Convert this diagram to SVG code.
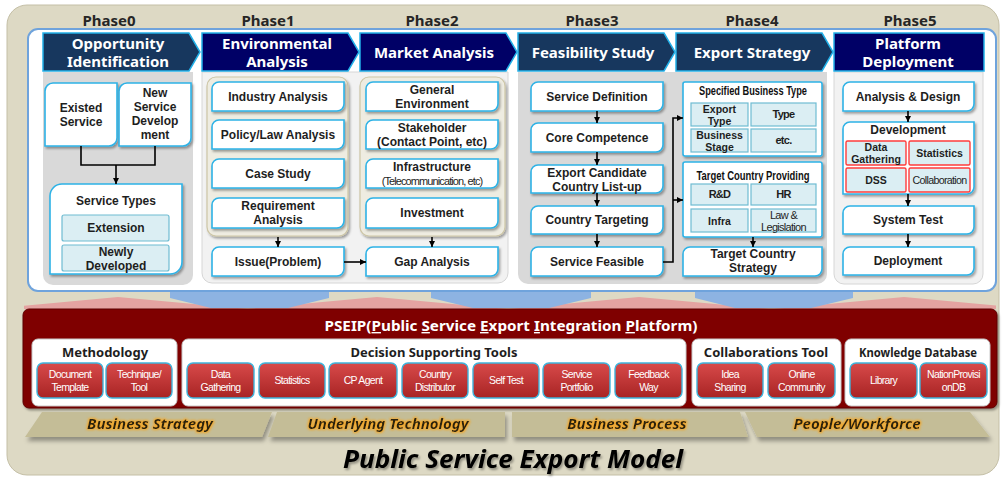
<svg xmlns="http://www.w3.org/2000/svg" width="1002" height="478" viewBox="0 0 1002 478">
<defs>
<style>
.ph{font-family:"Noto Sans","DejaVu Sans",sans-serif;font-weight:bold;font-size:15px;fill:#262626;text-anchor:middle}
.hd{font-family:"Noto Sans","DejaVu Sans",sans-serif;font-weight:bold;font-size:15px;fill:#ffffff;text-anchor:middle}
.hA{fill:#17375e;stroke:#22b0e8;stroke-width:1.5}
.hB{fill:#000066;stroke:#22b0e8;stroke-width:1.5}
.bx{fill:#ffffff;stroke:#2eb2e6;stroke-width:1.6;filter:url(#sh)}
.t{font-family:"Liberation Sans",Arial,sans-serif;font-weight:bold;font-size:12px;fill:#1e1e1e;text-anchor:middle}
.ts{font-family:"Liberation Sans",Arial,sans-serif;font-weight:bold;font-size:10.5px;fill:#1e1e1e;text-anchor:middle}
.tc{font-family:"Liberation Sans",Arial,sans-serif;font-size:11px;fill:#1e1e1e;text-anchor:middle;letter-spacing:-0.7px}
.tt{font-family:"Liberation Sans",Arial,sans-serif;font-weight:bold;font-size:12px;fill:#111111;text-anchor:middle}
.cell{fill:#dbeef3;stroke:#6fbcd2;stroke-width:1.2}
.rcell{fill:#dbeef3;stroke:#ff3c3c;stroke-width:1.4}
.rb{fill:url(#rg);stroke:#3fb4dc;stroke-width:1.4}
.rt{font-family:"Liberation Sans",Arial,sans-serif;font-size:10.5px;fill:#ffffff;text-anchor:middle;letter-spacing:-0.7px}
.sec{fill:#ffffff;stroke:#c8c8c8;stroke-width:1}
.st{font-family:"Noto Sans","DejaVu Sans",sans-serif;font-weight:bold;font-size:13px;fill:#1e1e1e;text-anchor:middle}
.bt{font-family:"Noto Sans","DejaVu Sans",sans-serif;font-weight:bold;font-style:italic;font-size:15px;fill:#2a2410;text-anchor:middle;filter:url(#glow)}
.trap{fill:#c4bd97;filter:url(#sh2)}
.ln{fill:none;stroke:#000000;stroke-width:1.6}
</style>
<filter id="sh" x="-10%" y="-15%" width="125%" height="145%">
<feDropShadow dx="1.5" dy="2" stdDeviation="1.1" flood-color="#000000" flood-opacity="0.35"/>
</filter>
<filter id="sh2" x="-5%" y="-20%" width="115%" height="170%">
<feDropShadow dx="2" dy="4" stdDeviation="2" flood-color="#000000" flood-opacity="0.35"/>
</filter>
<filter id="tsh" x="-5%" y="-20%" width="115%" height="160%">
<feDropShadow dx="1.5" dy="2" stdDeviation="1.2" flood-color="#000000" flood-opacity="0.35"/>
</filter>
<filter id="glow" x="-10%" y="-40%" width="120%" height="180%">
<feMorphology in="SourceAlpha" operator="dilate" radius="1.3" result="d"/>
<feGaussianBlur in="d" stdDeviation="1.3" result="b"/>
<feFlood flood-color="#f5a623" flood-opacity="0.9"/>
<feComposite in2="b" operator="in" result="g"/>
<feMerge><feMergeNode in="g"/><feMergeNode in="SourceGraphic"/></feMerge>
</filter>
<linearGradient id="rg" x1="0" y1="0" x2="0" y2="1">
<stop offset="0" stop-color="#d84a4a"/>
<stop offset="1" stop-color="#a82424"/>
</linearGradient>
<clipPath id="pc"><rect x="24" y="280" width="972" height="30"/></clipPath>
<marker id="ar" viewBox="0 0 8 8" refX="8" refY="4" markerWidth="6" markerHeight="6" markerUnits="userSpaceOnUse" orient="auto">
<path d="M0 0 L8 4 L0 8 Z" fill="#000000"/>
</marker>
</defs>

<g id="background">
<rect x="7" y="5" width="992" height="470" rx="20" fill="#ddd9c4" stroke="#c4bfa6" stroke-width="1"/>
</g>

<g id="phase-labels">
<text class="ph" x="109" y="26">Phase0</text>
<text class="ph" x="268" y="26">Phase1</text>
<text class="ph" x="432" y="26">Phase2</text>
<text class="ph" x="592" y="26">Phase3</text>
<text class="ph" x="752" y="26">Phase4</text>
<text class="ph" x="910" y="26">Phase5</text>
</g>

<g id="flow-arrows">
<g clip-path="url(#pc)" fill="#e4a3a1">
<path d="M118 297 L248 309 L-12 309 Z"/>
<path d="M377 297 L507 309 L247 309 Z"/>
<path d="M639 297 L769 309 L509 309 Z"/>
<path d="M904 297 L1034 309 L774 309 Z"/>
</g>
<path d="M170 289 H329 V298 L288 308 H211 L170 298 Z" fill="#8db3e2"/>
<path d="M431 289 H591 V298 L549 308 H473 L431 298 Z" fill="#8db3e2"/>
<path d="M695 289 H853 V298 L811 308 H735 L695 298 Z" fill="#8db3e2"/>
</g>

<g id="main-panel">
<rect x="28" y="29" width="968" height="262" rx="10" fill="#ffffff" stroke="#6fa3dc" stroke-width="2"/>
<path d="M43 72 H193 V275 A10 10 0 0 1 183 285 H53 A10 10 0 0 1 43 275 Z" fill="#d9d9d9"/>
<path d="M202 72 H508 V273 A10 10 0 0 1 498 283 H212 A10 10 0 0 1 202 273 Z" fill="#f2f2f2" stroke="#d6d6d6" stroke-width="1"/>
<path d="M518 72 H827 V274 A10 10 0 0 1 817 284 H528 A10 10 0 0 1 518 274 Z" fill="#d9d9d9"/>
<path d="M834 72 H983 V274 A10 10 0 0 1 973 284 H844 A10 10 0 0 1 834 274 Z" fill="#f2f2f2" stroke="#d6d6d6" stroke-width="1"/>
<rect x="207" y="77" width="141" height="159" rx="9" fill="#eeece1" stroke="#cdc6a6" stroke-width="1.2" filter="url(#sh)"/>
<rect x="360" y="77" width="145" height="159" rx="9" fill="#eeece1" stroke="#cdc6a6" stroke-width="1.2" filter="url(#sh)"/>
</g>

<g id="header-phase0">
<path class="hA" d="M43 33 H189 L200 52 L189 71 H43 Z"/>
<text class="hd" x="118" y="49">Opportunity<tspan x="118" dy="18">Identification</tspan></text>
</g>
<g id="header-phase1">
<path class="hB" d="M202 33 H348 L359 52 L348 71 H202 Z"/>
<text class="hd" x="277" y="49">Environmental<tspan x="277" dy="18">Analysis</tspan></text>
</g>
<g id="header-phase2">
<path class="hB" d="M360 33 H506 L517 52 L506 71 H360 Z"/>
<text class="hd" x="434" y="58">Market Analysis</text>
</g>
<g id="header-phase3">
<path class="hA" d="M518 33 H664 L675 52 L664 71 H518 Z"/>
<text class="hd" x="593" y="58">Feasibility Study</text>
</g>
<g id="header-phase4">
<path class="hA" d="M676 33 H822 L833 52 L822 71 H676 Z"/>
<text class="hd" x="752" y="58">Export Strategy</text>
</g>
<g id="header-phase5">
<rect class="hB" x="834" y="33" width="150" height="38"/>
<text class="hd" x="908" y="49">Platform<tspan x="908" dy="18">Deployment</tspan></text>
</g>

<g id="existed-service">
<path class="bx" d="M53 83 H117 V138 A8 8 0 0 1 109 146 H45 V91 A8 8 0 0 1 53 83 Z"/>
<text class="t" x="81" y="112">Existed<tspan x="81" dy="14">Service</tspan></text>
</g>
<g id="new-service">
<path class="bx" d="M127 83 H191 V138 A8 8 0 0 1 183 146 H119 V91 A8 8 0 0 1 127 83 Z"/>
<text class="t" x="155" y="97">New<tspan x="155" dy="14">Service</tspan><tspan x="155" dy="14">Develop</tspan><tspan x="155" dy="14">ment</tspan></text>
</g>
<g id="service-types">
<path class="bx" d="M62 184 H182 V262 A12 12 0 0 1 170 274 H50 V196 A12 12 0 0 1 62 184 Z"/>
<text class="t" x="116" y="205" font-weight="normal">Service Types</text>
<rect class="cell" x="62" y="215" width="107" height="26" rx="2"/>
<text class="t" x="116" y="232">Extension</text>
<rect class="cell" x="62" y="245" width="107" height="26" rx="2"/>
<text class="t" x="116" y="256">Newly<tspan x="116" dy="14">Developed</tspan></text>
</g>

<g id="industry-analysis">
<path class="bx" d="M219 82 H344 V104 A7 7 0 0 1 337 111 H212 V89 A7 7 0 0 1 219 82 Z"/>
<text class="t" x="278" y="101">Industry Analysis</text>
</g>
<g id="policy-law">
<path class="bx" d="M219 120 H344 V142 A7 7 0 0 1 337 149 H212 V127 A7 7 0 0 1 219 120 Z"/>
<text class="t" x="278" y="139">Policy/Law Analysis</text>
</g>
<g id="case-study">
<path class="bx" d="M219 159 H344 V181 A7 7 0 0 1 337 188 H212 V166 A7 7 0 0 1 219 159 Z"/>
<text class="t" x="278" y="178">Case Study</text>
</g>
<g id="requirement">
<path class="bx" d="M219 198 H344 V221 A7 7 0 0 1 337 228 H212 V205 A7 7 0 0 1 219 198 Z"/>
<text class="t" x="278" y="210">Requirement<tspan x="278" dy="14">Analysis</tspan></text>
</g>
<g id="issue">
<path class="bx" d="M219 247 H344 V269 A7 7 0 0 1 337 276 H212 V254 A7 7 0 0 1 219 247 Z"/>
<text class="t" x="278" y="266">Issue(Problem)</text>
</g>

<g id="general-env">
<path class="bx" d="M373 82 H498 V104 A7 7 0 0 1 491 111 H366 V89 A7 7 0 0 1 373 82 Z"/>
<text class="t" x="432" y="94">General<tspan x="432" dy="14">Environment</tspan></text>
</g>
<g id="stakeholder">
<path class="bx" d="M373 120 H498 V142 A7 7 0 0 1 491 149 H366 V127 A7 7 0 0 1 373 120 Z"/>
<text class="t" x="432" y="132">Stakeholder<tspan x="432" dy="14">(Contact Point, etc)</tspan></text>
</g>
<g id="infrastructure">
<path class="bx" d="M373 159 H498 V181 A7 7 0 0 1 491 188 H366 V166 A7 7 0 0 1 373 159 Z"/>
<text class="t" x="432" y="171">Infrastructure<tspan x="432" dy="14" font-weight="normal" font-size="11" letter-spacing="-0.9">(Telecommunication, etc)</tspan></text>
</g>
<g id="investment">
<path class="bx" d="M373 198 H498 V221 A7 7 0 0 1 491 228 H366 V205 A7 7 0 0 1 373 198 Z"/>
<text class="t" x="432" y="217">Investment</text>
</g>
<g id="gap-analysis">
<path class="bx" d="M373 247 H498 V269 A7 7 0 0 1 491 276 H366 V254 A7 7 0 0 1 373 247 Z"/>
<text class="t" x="432" y="266">Gap Analysis</text>
</g>

<g id="service-definition">
<path class="bx" d="M538 82 H663 V104 A7 7 0 0 1 656 111 H531 V89 A7 7 0 0 1 538 82 Z"/>
<text class="t" x="597" y="101">Service Definition</text>
</g>
<g id="core-competence">
<path class="bx" d="M538 123 H663 V145 A7 7 0 0 1 656 152 H531 V130 A7 7 0 0 1 538 123 Z"/>
<text class="t" x="597" y="142">Core Competence</text>
</g>
<g id="export-candidate">
<path class="bx" d="M538 165 H663 V186 A7 7 0 0 1 656 193 H531 V172 A7 7 0 0 1 538 165 Z"/>
<text class="t" x="597" y="177">Export Candidate<tspan x="597" dy="14">Country List-up</tspan></text>
</g>
<g id="country-targeting">
<path class="bx" d="M538 206 H663 V227 A7 7 0 0 1 656 234 H531 V213 A7 7 0 0 1 538 206 Z"/>
<text class="t" x="597" y="224">Country Targeting</text>
</g>
<g id="service-feasible">
<path class="bx" d="M538 247 H663 V269 A7 7 0 0 1 656 276 H531 V254 A7 7 0 0 1 538 247 Z"/>
<text class="t" x="597" y="266">Service Feasible</text>
</g>

<g id="specified-business-type">
<rect class="bx" x="683" y="82" width="139" height="74" rx="2"/>
<text class="tt" x="753" y="95" textLength="108" lengthAdjust="spacingAndGlyphs">Specified Business Type</text>
<rect class="cell" x="691" y="103" width="57" height="23"/>
<text class="ts" x="719.5" y="113">Export<tspan x="719.5" dy="11.5">Type</tspan></text>
<rect class="cell" x="751" y="103" width="65" height="23"/>
<text class="tc" x="783.5" y="118" font-weight="bold">Type</text>
<rect class="cell" x="691" y="129" width="57" height="23"/>
<text class="ts" x="719.5" y="139">Business<tspan x="719.5" dy="11.5">Stage</tspan></text>
<rect class="cell" x="751" y="129" width="65" height="23"/>
<text class="tc" x="783.5" y="144" font-weight="bold">etc.</text>
</g>
<g id="target-country-providing">
<rect class="bx" x="683" y="162" width="139" height="75" rx="2"/>
<text class="tt" x="753" y="180" textLength="113" lengthAdjust="spacingAndGlyphs">Target Country Providing</text>
<rect class="cell" x="691" y="184" width="57" height="21"/>
<text class="tc" x="719.5" y="198" font-weight="bold">R&amp;D</text>
<rect class="cell" x="751" y="184" width="65" height="21"/>
<text class="tc" x="783.5" y="198" font-weight="bold">HR</text>
<rect class="cell" x="691" y="209" width="57" height="23"/>
<text class="ts" x="719.5" y="225" font-size="11">Infra</text>
<rect class="cell" x="751" y="209" width="65" height="23"/>
<text class="tc" x="783.5" y="219" font-size="10.5">Law &amp;<tspan x="783.5" dy="11.5">Legislation</tspan></text>
</g>
<g id="target-country-strategy">
<path class="bx" d="M690 247 H822 V269 A7 7 0 0 1 815 276 H683 V254 A7 7 0 0 1 690 247 Z"/>
<text class="t" x="753" y="258">Target Country<tspan x="753" dy="14">Strategy</tspan></text>
</g>

<g id="analysis-design">
<path class="bx" d="M850 82 H974 V104 A7 7 0 0 1 967 111 H843 V89 A7 7 0 0 1 850 82 Z"/>
<text class="t" x="908" y="101">Analysis &amp; Design</text>
</g>
<g id="development">
<path class="bx" d="M850 122 H974 V187 A7 7 0 0 1 967 194 H843 V129 A7 7 0 0 1 850 122 Z"/>
<text class="t" x="908" y="134">Development</text>
<rect class="rcell" x="846" y="141" width="60" height="24" rx="1.5"/>
<text class="ts" x="876" y="151">Data<tspan x="876" dy="11.5">Gathering</tspan></text>
<rect class="rcell" x="909" y="141" width="61" height="24" rx="1.5"/>
<text class="ts" x="939.5" y="157" font-size="11">Statistics</text>
<rect class="rcell" x="846" y="168" width="60" height="24" rx="1.5"/>
<text class="ts" x="876" y="184" font-size="11">DSS</text>
<rect class="rcell" x="909" y="168" width="61" height="24" rx="1.5"/>
<text class="tc" x="939.5" y="184" textLength="54" lengthAdjust="spacingAndGlyphs">Collaboration</text>
</g>
<g id="system-test">
<path class="bx" d="M850 206 H974 V227 A7 7 0 0 1 967 234 H843 V213 A7 7 0 0 1 850 206 Z"/>
<text class="t" x="908" y="224">System Test</text>
</g>
<g id="deployment">
<path class="bx" d="M850 247 H974 V268 A7 7 0 0 1 967 275 H843 V254 A7 7 0 0 1 850 247 Z"/>
<text class="t" x="908" y="265">Deployment</text>
</g>

<g id="connectors">
<polyline class="ln" points="81,146 81,165 155,165 155,146"/>
<line class="ln" x1="116" y1="165" x2="116" y2="184" marker-end="url(#ar)"/>
<line class="ln" x1="278" y1="237" x2="278" y2="247" marker-end="url(#ar)"/>
<line class="ln" x1="432" y1="237" x2="432" y2="247" marker-end="url(#ar)"/>
<line class="ln" x1="344" y1="262" x2="366" y2="262" marker-end="url(#ar)"/>
<line class="ln" x1="597" y1="111" x2="597" y2="123" marker-end="url(#ar)"/>
<line class="ln" x1="597" y1="152" x2="597" y2="165" marker-end="url(#ar)"/>
<line class="ln" x1="597" y1="193" x2="597" y2="206" marker-end="url(#ar)"/>
<line class="ln" x1="597" y1="234" x2="597" y2="247" marker-end="url(#ar)"/>
<polyline class="ln" points="663,262 673,262 673,118 683,118" marker-end="url(#ar)"/>
<line class="ln" x1="673" y1="200" x2="683" y2="200" marker-end="url(#ar)"/>
<line class="ln" x1="753" y1="237" x2="753" y2="247" marker-end="url(#ar)"/>
<line class="ln" x1="908" y1="111" x2="908" y2="122" marker-end="url(#ar)"/>
<line class="ln" x1="908" y1="194" x2="908" y2="206" marker-end="url(#ar)"/>
<line class="ln" x1="908" y1="234" x2="908" y2="247" marker-end="url(#ar)"/>
</g>

<g id="pseip">
<rect x="23" y="309" width="974" height="99" rx="6" fill="#7f0000" stroke="#5c0000" stroke-width="1" filter="url(#sh)"/>
<text x="511" y="331" font-family="Noto Sans, DejaVu Sans, sans-serif" font-weight="bold" font-size="14" fill="#ffffff" text-anchor="middle" textLength="373" lengthAdjust="spacingAndGlyphs">PSEIP(<tspan text-decoration="underline">P</tspan>ublic <tspan text-decoration="underline">S</tspan>ervice <tspan text-decoration="underline">E</tspan>xport <tspan text-decoration="underline">I</tspan>ntegration <tspan text-decoration="underline">P</tspan>latform)</text>
</g>

<g id="methodology">
<rect class="sec" x="32" y="339" width="145" height="67" rx="6"/>
<text class="st" x="105" y="357">Methodology</text>
<rect class="rb" x="37" y="363" width="66" height="35" rx="6"/>
<text class="rt" x="70" y="378">Document<tspan x="70" dy="13">Template</tspan></text>
<rect class="rb" x="106" y="363" width="66" height="35" rx="6"/>
<text class="rt" x="139" y="378">Technique/<tspan x="139" dy="13">Tool</tspan></text>
</g>

<g id="decision-supporting-tools">
<rect class="sec" x="182" y="339" width="504" height="67" rx="6"/>
<text class="st" x="434" y="357">Decision Supporting Tools</text>
<rect class="rb" x="187" y="363" width="67" height="35" rx="6"/>
<text class="rt" x="220.5" y="378">Data<tspan x="220.5" dy="13">Gathering</tspan></text>
<rect class="rb" x="259" y="363" width="66" height="35" rx="6"/>
<text class="rt" x="292" y="384">Statistics</text>
<rect class="rb" x="329" y="363" width="68" height="35" rx="6"/>
<text class="rt" x="363" y="384">CP Agent</text>
<rect class="rb" x="402" y="363" width="66" height="35" rx="6"/>
<text class="rt" x="435" y="378">Country<tspan x="435" dy="13">Distributor</tspan></text>
<rect class="rb" x="473" y="363" width="66" height="35" rx="6"/>
<text class="rt" x="506" y="384">Self Test</text>
<rect class="rb" x="543" y="363" width="67" height="35" rx="6"/>
<text class="rt" x="576.5" y="378">Service<tspan x="576.5" dy="13">Portfolio</tspan></text>
<rect class="rb" x="615" y="363" width="67" height="35" rx="6"/>
<text class="rt" x="648.5" y="378">Feedback<tspan x="648.5" dy="13">Way</tspan></text>
</g>

<g id="collaborations-tool">
<rect class="sec" x="692" y="339" width="149" height="67" rx="6"/>
<text class="st" x="766" y="357">Collaborations Tool</text>
<rect class="rb" x="697" y="363" width="66" height="35" rx="6"/>
<text class="rt" x="730" y="378">Idea<tspan x="730" dy="13">Sharing</tspan></text>
<rect class="rb" x="768" y="363" width="67" height="35" rx="6"/>
<text class="rt" x="801.5" y="378">Online<tspan x="801.5" dy="13">Community</tspan></text>
</g>

<g id="knowledge-database">
<rect class="sec" x="845" y="339" width="145" height="67" rx="6"/>
<text class="st" x="918" y="357" textLength="118" lengthAdjust="spacingAndGlyphs">Knowledge Database</text>
<rect class="rb" x="850" y="363" width="67" height="35" rx="6"/>
<text class="rt" x="883.5" y="384">Library</text>
<rect class="rb" x="920" y="363" width="67" height="35" rx="6"/>
<text class="rt" x="953.5" y="378">NationProvisi<tspan x="953.5" dy="13">onDB</tspan></text>
</g>

<g id="business-strategy">
<path class="trap" d="M42 412 H272 L262 437 H25 Z"/>
<text class="bt" x="150" y="429">Business Strategy</text>
</g>
<g id="underlying-technology">
<path class="trap" d="M277 412 H505 V437 H268 Z"/>
<text class="bt" x="388" y="429">Underlying Technology</text>
</g>
<g id="business-process">
<path class="trap" d="M512 412 H740 L748 437 H512 Z"/>
<text class="bt" x="627" y="429">Business Process</text>
</g>
<g id="people-workforce">
<path class="trap" d="M745 412 H970 L990 437 H757 Z"/>
<text class="bt" x="857" y="429">People/Workforce</text>
</g>

<g id="title">
<text x="513" y="468" font-family="Noto Sans, DejaVu Sans, sans-serif" font-weight="bold" font-style="italic" font-size="25" fill="#000000" text-anchor="middle" textLength="340" lengthAdjust="spacingAndGlyphs" filter="url(#tsh)">Public Service Export Model</text>
</g>
</svg>
